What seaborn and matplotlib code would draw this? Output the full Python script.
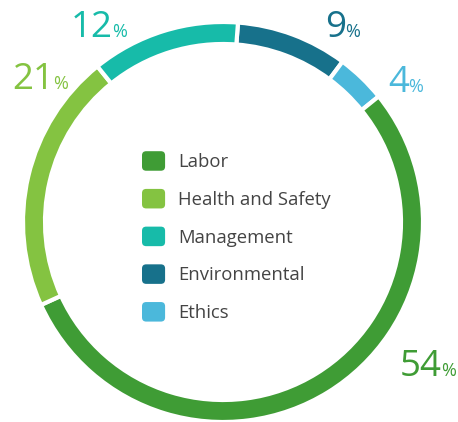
import matplotlib
matplotlib.use("Agg")
import matplotlib.pyplot as plt
from matplotlib.patches import FancyBboxPatch
from matplotlib.legend_handler import HandlerPatch
import seaborn as sns

# data, clockwise from the top
categories = ["Environmental", "Ethics", "Labor", "Health and Safety", "Management"]
shares = [9, 4, 54, 21, 12]
legend_order = ["Labor", "Health and Safety", "Management", "Environmental", "Ethics"]

colors = {
    "Labor": "#3f9c35",
    "Health and Safety": "#84c341",
    "Management": "#17bba9",
    "Environmental": "#17718b",
    "Ethics": "#4bb8db",
}

# where the percent labels sit (data units of the ring)
label_pos = {
    "Management": (-0.55, 0.925),
    "Environmental": (0.615, 0.925),
    "Ethics": (0.93, 0.65),
    "Health and Safety": (-0.845, 0.665),
    "Labor": (1.095, -0.77),
}

sns.set_style("white")
plt.rcParams["font.family"] = ["Open Sans", "DejaVu Sans"]

fig = plt.figure(figsize=(4.58, 4.22), dpi=100)
ax = fig.add_axes([23 / 458, 0, 400 / 458, 400 / 422])

ax.pie(
    shares,
    colors=[colors[c] for c in categories],
    startangle=90 - 4.3,
    counterclock=False,
    radius=1,
    wedgeprops=dict(width=0.11, edgecolor="white", linewidth=3),
)
ax.set_xlim(-1, 1)
ax.set_ylim(-1, 1)
ax.set_aspect("equal")
ax.axis("off")

for cat, val in zip(categories, shares):
    x, y = label_pos[cat]
    ax.text(x, y, str(val), color=colors[cat], fontsize=26.5,
            ha="right", va="baseline", clip_on=False)
    ax.text(x - 0.003, y, "%", color=colors[cat], fontsize=13,
            ha="left", va="baseline", clip_on=False)


class RoundSquare(HandlerPatch):
    def create_artists(self, legend, orig_handle, xdescent, ydescent,
                       width, height, fontsize, trans):
        p = FancyBboxPatch((-xdescent, -ydescent), width, height,
                           boxstyle="round,pad=0,rounding_size=3",
                           facecolor=orig_handle.get_facecolor(),
                           edgecolor="none", transform=trans)
        return [p]


handles = [plt.Rectangle((0, 0), 1, 1, facecolor=colors[c]) for c in legend_order]
leg = ax.legend(
    handles, legend_order,
    loc="upper left", bbox_to_anchor=(0.2975, 0.677),
    frameon=False, fontsize=13.3,
    handlelength=1.25, handleheight=1.25,
    handletextpad=0.7, labelspacing=0.96,
    borderpad=0, borderaxespad=0,
    handler_map={plt.Rectangle: RoundSquare()},
)
for t in leg.get_texts():
    t.set_color("#444444")

fig.savefig("out.png", dpi=100)
